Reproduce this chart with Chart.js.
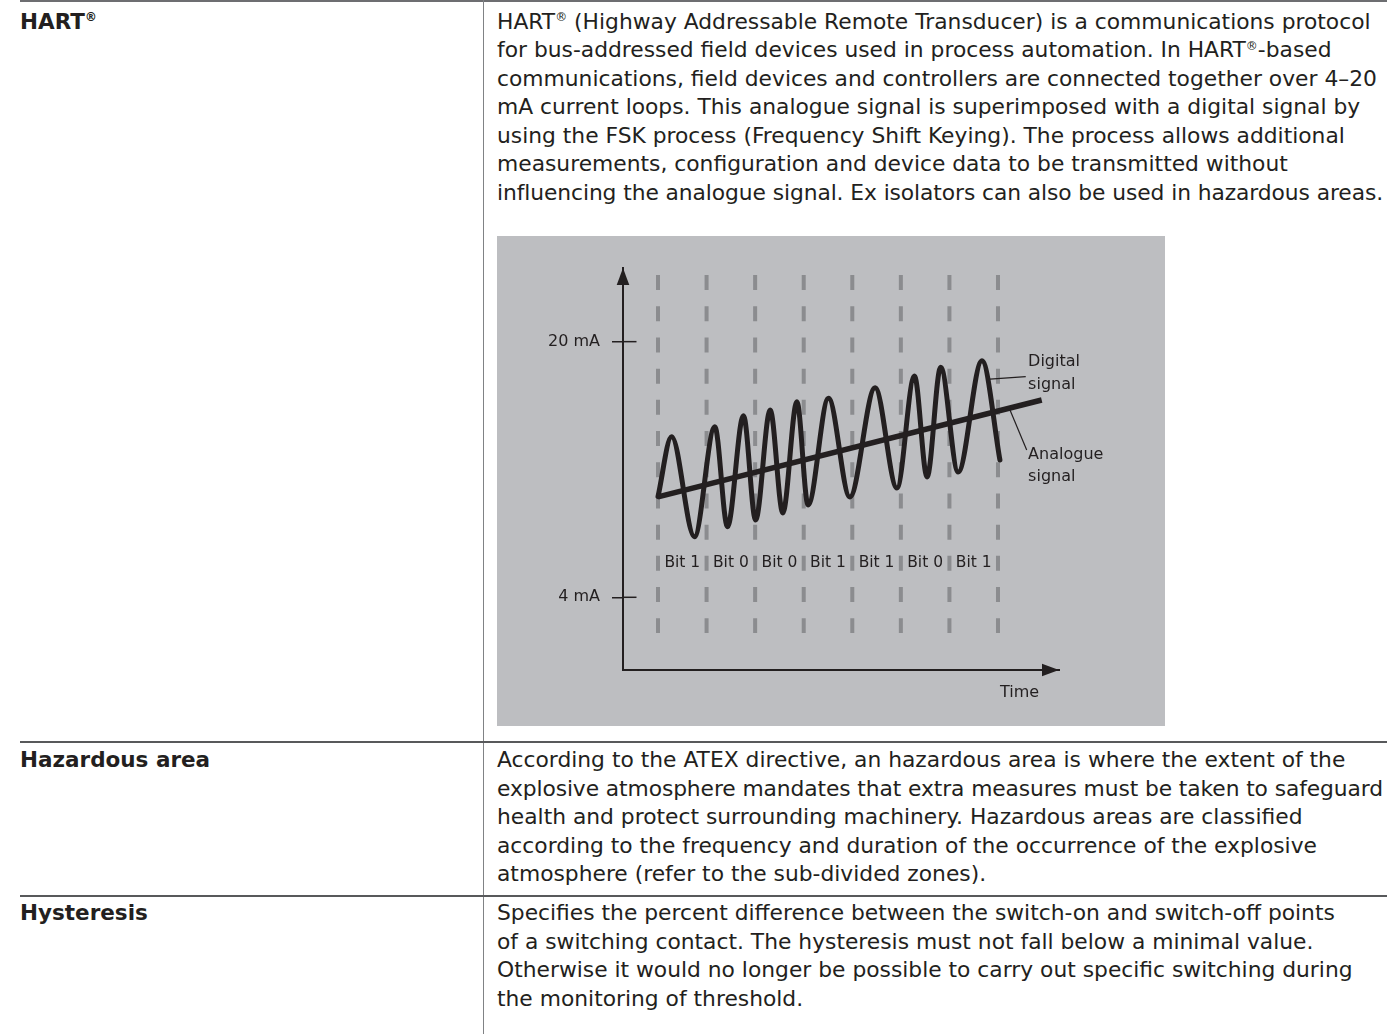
<!DOCTYPE html>
<html><head><meta charset="utf-8">
<script src="https://cdn.jsdelivr.net/npm/chart.js@4.4.0/dist/chart.umd.min.js"></script>
<style>
html,body{margin:0;padding:0;background:#fff;}
body{width:1387px;height:1034px;position:relative;overflow:hidden;font-family:'DejaVu Sans',sans-serif;color:#231f20;}
.hr{position:absolute;left:20px;right:0;height:2px;background:#58595b;}
.vr{position:absolute;left:483px;top:0;width:1px;height:1034px;background:#808285;}
.term{position:absolute;left:20px;font-weight:bold;font-size:21.5px;line-height:28.5px;white-space:nowrap;}
.desc{position:absolute;left:497px;font-size:21.8px;line-height:28.5px;white-space:nowrap;}
.desc span{display:block;width:max-content;}
sup{font-size:0.55em;vertical-align:baseline;position:relative;top:-0.6em;line-height:0;}
#box{position:absolute;left:497px;top:236px;width:668px;height:490px;background:#bdbec1;}
#box canvas{display:block;}
</style></head>
<body>
<div class="hr" style="top:0px;background:#6d6e71;"></div>
<div class="vr"></div>
<div class="hr" style="top:741px;"></div>
<div class="hr" style="top:895px;"></div>

<div class="term" style="top:7.5px;">HART<sup>®</sup></div>
<div class="desc" style="top:7.5px;"><span>HART<sup>®</sup> (Highway Addressable Remote Transducer) is a communications protocol</span><span>for bus-addressed field devices used in process automation. In HART<sup>®</sup>-based</span><span>communications, field devices and controllers are connected together over 4–20</span><span>mA current loops. This analogue signal is superimposed with a digital signal by</span><span>using the FSK process (Frequency Shift Keying). The process allows additional</span><span>measurements, configuration and device data to be transmitted without</span><span>influencing the analogue signal. Ex isolators can also be used in hazardous areas.</span></div>

<div id="box"><canvas id="c" width="668" height="490" style="width:668px;height:490px"></canvas></div>

<div class="term" style="top:746px;">Hazardous area</div>
<div class="desc" style="top:746px;"><span>According to the ATEX directive, an hazardous area is where the extent of the</span><span>explosive atmosphere mandates that extra measures must be taken to safeguard</span><span>health and protect surrounding machinery. Hazardous areas are classified</span><span>according to the frequency and duration of the occurrence of the explosive</span><span>atmosphere (refer to the sub-divided zones).</span></div>

<div class="term" style="top:899px;">Hysteresis</div>
<div class="desc" style="top:899px;"><span>Specifies the percent difference between the switch-on and switch-off points</span><span>of a switching contact. The hysteresis must not fall below a minimal value.</span><span>Otherwise it would no longer be possible to carry out specific switching during</span><span>the monitoring of threshold.</span></div>

<script>
// keep every text line inside the page width
document.querySelectorAll('.desc span').forEach(sp => {
  const w = sp.getBoundingClientRect().width;
  const maxW = 1383 - 497;
  if (w > maxW) {
    const n = sp.textContent.length;
    sp.style.letterSpacing = ((maxW - w) / n).toFixed(3) + 'px';
  }
});

// ---- data (time in bit periods, current in mA) ----
const bitBoundaries = [0, 1, 2, 3, 4, 5, 6, 7];
const bitLabels = ['Bit 1', 'Bit 0', 'Bit 0', 'Bit 1', 'Bit 1', 'Bit 0', 'Bit 1'];
const yTickValues = [4, 20];
const yTickLabels = ['4 mA', '20 mA'];
const digitalTime = [0, 0.28, 0.75, 1.17, 1.43, 1.76, 2.01, 2.31, 2.57, 2.86, 3.09, 3.51, 3.95, 4.47, 4.92, 5.28, 5.54, 5.82, 6.18, 6.67, 7.04];
const digitalCurrent = [10.3, 14.05, 7.79, 14.68, 8.42, 15.37, 8.84, 15.72, 9.28, 16.24, 9.78, 16.46, 10.28, 17.12, 10.84, 17.85, 11.53, 18.40, 11.84, 18.81, 12.59];
const analogueTime = [0, 7.9];
const analogueCurrent = [10.28, 16.35];
const boundarySpan = [24.17, 1.77];
const axisRangeTime = [-0.7206, 8.256];
const axisRangeCurrent = [-0.551, 24.61];

// ---- annotation anchors (data units) ----
const bitLabelLevel = 6.15;
const notes = [
  {t: 7.62, mA: [18.75, 17.29], lines: ['Digital', 'signal']},
  {t: 7.62, mA: [12.91, 11.51], lines: ['Analogue', 'signal']}
];
const leaders = [
  {from: [6.836, 17.65], to: [7.571, 17.81]},
  {from: [7.247, 15.72], to: [7.591, 13.22]}
];
const timeLabel = {t: 7.445, mA: -1.99, text: 'Time'};

const ink = '#231f20';
const dashGrey = '#8b8c8f';
const FONT = '"DejaVu Sans"';

const datasets = [];
datasets.push({
  label: 'Analogue signal',
  data: analogueTime.map((t, i) => ({x: t, y: analogueCurrent[i]})),
  borderColor: ink, borderWidth: 5.5, pointRadius: 0, tension: 0,
  borderCapStyle: 'butt', order: 1
});
datasets.push({
  label: 'Digital signal',
  data: digitalTime.map((t, i) => ({x: t, y: digitalCurrent[i]})),
  borderColor: ink, borderWidth: 5, pointRadius: 0,
  cubicInterpolationMode: 'monotone', borderCapStyle: 'round', borderJoinStyle: 'round', order: 2
});
bitBoundaries.forEach(b => {
  datasets.push({
    label: 'boundary ' + b,
    data: [{x: b, y: boundarySpan[0]}, {x: b, y: boundarySpan[1]}],
    borderColor: dashGrey, borderWidth: 4, borderDash: [15, 16.2], pointRadius: 0,
    borderCapStyle: 'butt', order: 3
  });
});

const overlay = {
  id: 'overlay',
  afterDatasetsDraw(chart) {
    const {ctx, chartArea: a, scales: {x, y}} = chart;
    ctx.save();
    ctx.fillStyle = ink; ctx.strokeStyle = ink;
    // arrow heads
    ctx.beginPath();
    ctx.moveTo(a.left, a.top); ctx.lineTo(a.left - 6.3, a.top + 17); ctx.lineTo(a.left + 6.3, a.top + 17);
    ctx.closePath(); ctx.fill();
    ctx.beginPath();
    ctx.moveTo(a.right, a.bottom); ctx.lineTo(a.right - 17, a.bottom - 6.2); ctx.lineTo(a.right - 17, a.bottom + 6.2);
    ctx.closePath(); ctx.fill();
    // inner half of tick marks
    ctx.lineWidth = 1.5;
    yTickValues.forEach(v => {
      const py = y.getPixelForValue(v);
      ctx.beginPath(); ctx.moveTo(a.left, py); ctx.lineTo(a.left + 13.5, py); ctx.stroke();
    });
    // bit labels
    ctx.font = '15.5px ' + FONT;
    ctx.textAlign = 'center'; ctx.textBaseline = 'middle';
    bitLabels.forEach((lab, i) => {
      ctx.fillText(lab, x.getPixelForValue(i + 0.5), y.getPixelForValue(bitLabelLevel));
    });
    // notes
    ctx.font = '16px ' + FONT;
    ctx.textAlign = 'left';
    notes.forEach(n => n.lines.forEach((s, k) => ctx.fillText(s, x.getPixelForValue(n.t), y.getPixelForValue(n.mA[k]))));
    ctx.textAlign = 'center';
    ctx.fillText(timeLabel.text, x.getPixelForValue(timeLabel.t), y.getPixelForValue(timeLabel.mA));
    // leader lines
    ctx.lineWidth = 1.2;
    leaders.forEach(l => {
      ctx.beginPath();
      ctx.moveTo(x.getPixelForValue(l.from[0]), y.getPixelForValue(l.from[1]));
      ctx.lineTo(x.getPixelForValue(l.to[0]), y.getPixelForValue(l.to[1]));
      ctx.stroke();
    });
    ctx.restore();
  }
};

new Chart(document.getElementById('c'), {
  type: 'line',
  data: {datasets},
  plugins: [overlay],
  options: {
    responsive: false, animation: false, devicePixelRatio: 1, events: [],
    layout: {padding: {left: 0, top: 32, right: 106, bottom: 56}},
    plugins: {legend: {display: false}, tooltip: {enabled: false}},
    scales: {
      x: {
        type: 'linear', min: axisRangeTime[0], max: axisRangeTime[1],
        ticks: {display: false}, grid: {display: false, drawTicks: false},
        border: {display: true, color: ink, width: 2},
        afterFit(s) { s.height = 0; }
      },
      y: {
        type: 'linear', min: axisRangeCurrent[0], max: axisRangeCurrent[1],
        afterBuildTicks(s) { s.ticks = yTickValues.map(v => ({value: v})); },
        ticks: {
          callback: (v, i) => yTickLabels[i],
          font: {family: FONT, size: 16}, color: ink, padding: 12
        },
        grid: {drawOnChartArea: false, drawTicks: true, tickLength: 11, color: ink, lineWidth: 1.5},
        border: {display: true, color: ink, width: 2},
        afterFit(s) { s.width = 126; }
      }
    }
  }
});
</script>
</body></html>
